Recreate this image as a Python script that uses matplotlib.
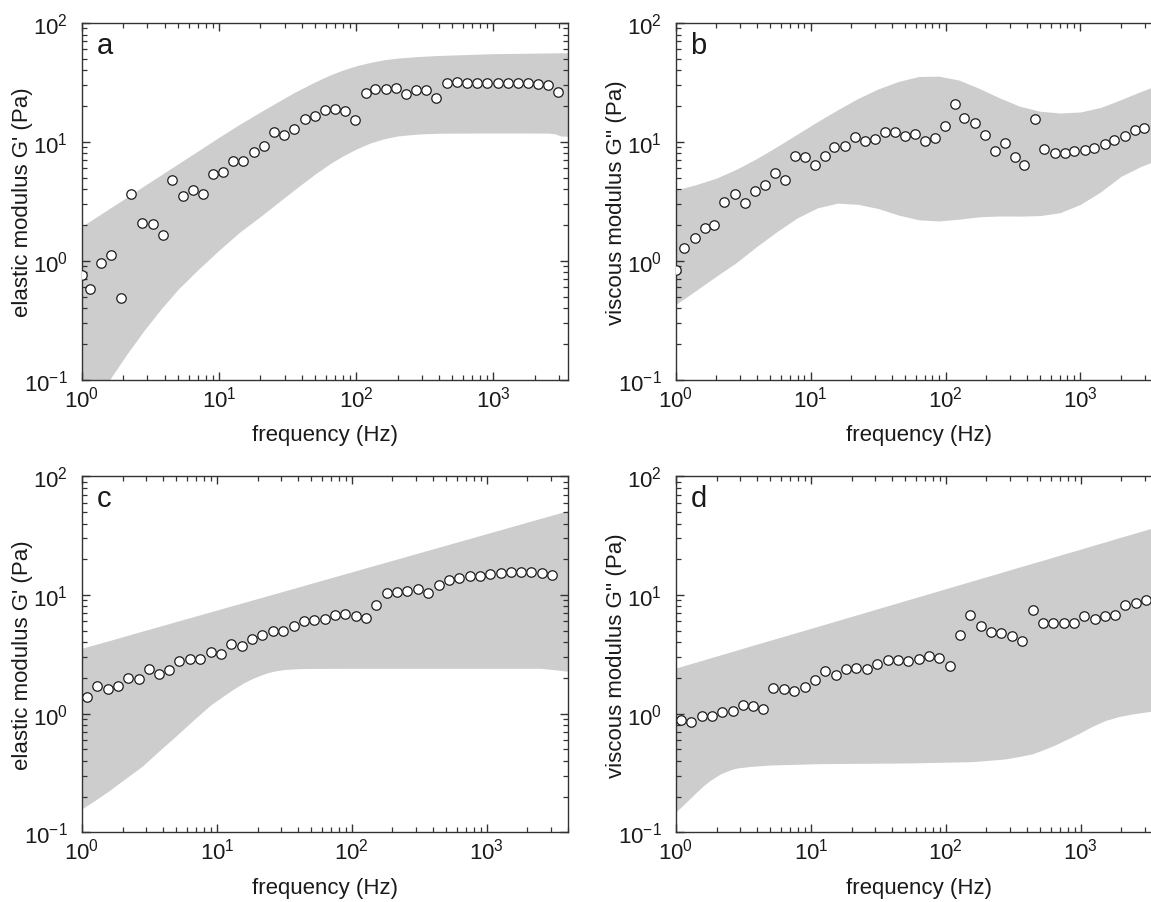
import matplotlib
matplotlib.use("Agg")
import matplotlib.pyplot as plt
from matplotlib.ticker import LogLocator, LogFormatterSciNotation, NullFormatter

plt.rcParams['font.family'] = ['Liberation Sans', 'DejaVu Sans']
plt.rcParams['mathtext.fontset'] = 'custom'
plt.rcParams['mathtext.rm'] = 'Liberation Sans'
plt.rcParams['mathtext.it'] = 'Liberation Sans:italic'
plt.rcParams['mathtext.bf'] = 'Liberation Sans:bold'
plt.rcParams['mathtext.default'] = 'regular'

# ---------------- data ----------------
freq_ab = [1.00, 1.15, 1.38, 1.64, 1.93, 2.28, 2.75, 3.27, 3.87, 4.57, 5.41, 6.44,
           7.62, 9.02, 10.7, 12.7, 15.0, 17.9, 21.3, 25.2, 29.9, 35.4, 42.2, 49.9,
           59.3, 70.2, 83.1, 98.4, 117, 138, 165, 195, 232, 274, 325, 384,
           457, 541, 644, 762, 902, 1072, 1270, 1510, 1786, 2127, 2516, 2978]
g1_a = [0.76, 0.58, 0.96, 1.11, 0.49, 3.67, 2.09, 2.04, 1.66, 4.78, 3.49, 3.94,
        3.67, 5.34, 5.55, 6.87, 6.87, 8.17, 9.30, 12.0, 11.4, 12.8, 15.6, 16.5,
        18.7, 19.0, 18.3, 15.2, 25.6, 27.7, 27.7, 28.2, 25.1, 27.3, 27.3, 23.5,
        31.5, 32.1, 31.5, 31.5, 31.5, 31.5, 31.5, 31.5, 31.1, 30.5, 29.9, 26.3]
g2_b = [0.83, 1.29, 1.56, 1.90, 2.01, 3.10, 3.65, 3.06, 3.89, 4.37, 5.51, 4.75,
        7.66, 7.41, 6.44, 7.60, 9.05, 9.18, 10.9, 10.2, 10.6, 12.1, 12.1, 11.3,
        11.6, 10.1, 10.7, 13.5, 21.0, 15.8, 14.3, 11.5, 8.44, 9.86, 7.41, 6.44,
        15.7, 8.65, 8.11, 8.11, 8.37, 8.54, 8.94, 9.54, 10.3, 11.3, 12.7, 13.2]

freq_cd = [1.09, 1.29, 1.55, 1.86, 2.21, 2.64, 3.13, 3.72, 4.44, 5.28, 6.31, 7.52,
           8.99, 10.7, 12.8, 15.3, 18.2, 21.7, 26.0, 31.0, 37.1, 44.1, 52.7, 63.0,
           75.0, 89.5, 107, 128, 152, 182, 216, 258, 308, 368, 439, 524,
           625, 745, 889, 1059, 1265, 1507, 1799, 2143, 2564, 3062]
g1_c = [1.37, 1.71, 1.60, 1.71, 1.99, 1.95, 2.38, 2.14, 2.32, 2.76, 2.87, 2.87,
        3.29, 3.16, 3.84, 3.69, 4.26, 4.60, 4.94, 4.97, 5.45, 6.04, 6.12, 6.32,
        6.83, 6.96, 6.65, 6.36, 8.24, 10.3, 10.5, 10.9, 11.3, 10.3, 12.2, 13.4,
        13.9, 14.4, 14.5, 14.9, 15.4, 15.5, 15.5, 15.5, 15.4, 14.8]
g2_d = [0.88, 0.845, 0.95, 0.96, 1.03, 1.05, 1.18, 1.15, 1.09, 1.65, 1.60, 1.54,
        1.68, 1.92, 2.30, 2.10, 2.40, 2.41, 2.40, 2.60, 2.83, 2.85, 2.78, 2.87,
        3.08, 2.97, 2.54, 4.63, 6.78, 5.52, 4.84, 4.75, 4.49, 4.07, 7.52, 5.77,
        5.80, 5.80, 5.77, 6.61, 6.32, 6.61, 6.83, 8.24, 8.51, 9.08]

# shaded bands (edges)
band_a_f = [1, 1.26, 1.59, 2.14, 2.86, 3.80, 5.01, 7.08, 10, 14.1, 20.4, 26.9,
            35.6, 50.1, 65.0, 79.4, 100, 126, 158, 200, 282, 398, 1000, 2512,
            2818, 3090, 3508]
band_a_hi = [1.95, 2.32, 2.76, 3.44, 4.30, 5.31, 6.53, 8.45, 10.96, 14.06, 18.11,
             21.78, 26.18, 31.99, 36.73, 40.09, 43.65, 46.56, 48.98, 50.70, 52.24,
             53.33, 55.21, 55.98, 56.10, 56.23, 56.23]
band_a_lo = [0.0355, 0.0603, 0.100, 0.166, 0.263, 0.398, 0.575, 0.851, 1.23, 1.74,
             2.40, 3.09, 3.98, 5.37, 6.61, 7.59, 8.71, 9.77, 10.59, 11.22, 11.64,
             11.83, 11.89, 11.86, 11.69, 11.22, 11.14]

band_b_f = [1, 1.413, 1.995, 2.818, 3.981, 5.623, 7.943, 11.22, 15.85, 22.39, 31.62,
            44.67, 63.10, 89.13, 125.9, 177.8, 251.2, 354.8, 501.2, 707.9, 1000,
            1413, 1995, 2818, 3981]
band_b_hi = [3.94, 4.37, 4.95, 5.89, 7.24, 9.12, 11.61, 14.79, 18.62, 23.17, 27.86,
             32.21, 35.48, 35.73, 33.11, 28.18, 23.44, 19.95, 18.11, 17.50, 17.86,
             19.50, 22.65, 26.61, 30.90]
band_b_lo = [0.429, 0.562, 0.741, 0.966, 1.318, 1.758, 2.291, 2.786, 3.055, 2.985,
             2.754, 2.427, 2.213, 2.163, 2.239, 2.344, 2.382, 2.377, 2.399, 2.541,
             2.985, 3.802, 5.129, 6.237, 7.244]

band_c_f = [1, 1.259, 1.585, 1.995, 2.818, 3.758, 5.012, 6.683, 8.913, 11.22, 13.18,
            15.85, 18.62, 23.44, 26.92, 31.62, 39.81, 50.12, 100, 1000, 2512, 3162,
            4000]
band_c_hi = [3.56, 3.83, 4.12, 4.44, 4.97, 5.45, 5.98, 6.56, 7.19, 7.75, 8.16, 8.66,
             9.12, 9.82, 10.26, 10.81, 11.64, 12.54, 15.67, 32.89, 44.26, 47.64,
             51.40]
band_c_lo = [0.158, 0.187, 0.224, 0.272, 0.363, 0.490, 0.653, 0.881, 1.175, 1.413,
             1.603, 1.820, 1.995, 2.203, 2.291, 2.355, 2.393, 2.404, 2.410, 2.410,
             2.410, 2.344, 2.275]

band_d_f = [1, 1.122, 1.259, 1.413, 1.585, 1.778, 2.138, 2.512, 2.818, 3.548, 5.012,
            11.75, 53.70, 158.5, 275.4, 354.8, 436.5, 524.8, 645.7, 955.0, 1202,
            1514, 1905, 2399, 3311, 4000]
band_d_hi = [2.43, 2.52, 2.62, 2.72, 2.83, 2.94, 3.13, 3.30, 3.43, 3.71, 4.16, 5.52,
             9.18, 13.18, 15.85, 17.26, 18.49, 19.63, 21.09, 23.99, 25.94, 27.99,
             30.27, 32.66, 36.39, 38.73]
band_d_lo = [0.149, 0.168, 0.191, 0.217, 0.245, 0.272, 0.311, 0.335, 0.348, 0.359,
             0.369, 0.379, 0.384, 0.394, 0.415, 0.437, 0.458, 0.495, 0.545, 0.675,
             0.776, 0.873, 0.944, 0.993, 1.047, 1.072]

# ---------------- figure ----------------
W, H = 1151, 903
fig = plt.figure(figsize=(W / 100, H / 100), dpi=100)

def px_axes(left, top, width, height):
    return fig.add_axes([left / W, 1 - (top + height) / H, width / W, height / H])

panels = [
    dict(pos=(82, 24, 486, 356.7), xmax=3500, f=freq_ab, g=g1_a,
         bf=band_a_f, lo=band_a_lo, hi=band_a_hi, letter='a',
         ylabel="elastic modulus G' (Pa)"),
    dict(pos=(675.7, 24, 486, 356.7), xmax=4000, f=freq_ab, g=g2_b,
         bf=band_b_f, lo=band_b_lo, hi=band_b_hi, letter='b',
         ylabel="viscous modulus G'' (Pa)"),
    dict(pos=(82, 477.3, 486, 356), xmax=4000, f=freq_cd, g=g1_c,
         bf=band_c_f, lo=band_c_lo, hi=band_c_hi, letter='c',
         ylabel="elastic modulus G' (Pa)"),
    dict(pos=(676, 477.3, 486, 356), xmax=4000, f=freq_cd, g=g2_d,
         bf=band_d_f, lo=band_d_lo, hi=band_d_hi, letter='d',
         ylabel="viscous modulus G'' (Pa)"),
]

text_color = '#1a1a1a'
for p in panels:
    ax = px_axes(*p['pos'])
    ax.set_xscale('log')
    ax.set_yscale('log')
    ax.fill_between(p['bf'], p['lo'], p['hi'], color='#cdcdcd', linewidth=0, zorder=1)
    ax.plot(p['f'], p['g'], linestyle='none', marker='o', ms=6.8,
            mfc='white', mec='#1e1e1e', mew=0.9, zorder=3)
    ax.set_xlim(1, p['xmax'])
    ax.set_ylim(0.1, 100)

    for axis in (ax.xaxis, ax.yaxis):
        axis.set_major_locator(LogLocator(base=10, numticks=10))
        axis.set_minor_locator(LogLocator(base=10, subs=range(2, 10), numticks=10))
        axis.set_major_formatter(LogFormatterSciNotation())
        axis.set_minor_formatter(NullFormatter())

    ax.tick_params(which='both', direction='in', top=True, right=True,
                   colors='#333333', labelcolor=text_color)
    ax.tick_params(which='major', length=6, width=1.0, labelsize=16)
    ax.tick_params(which='minor', length=3.5, width=0.9)
    ax.tick_params(axis='x', which='major', pad=4)
    ax.tick_params(axis='y', which='major', pad=10)
    for s in ax.spines.values():
        s.set_color('#333333')
        s.set_linewidth(1.0)

    ax.set_xlabel('frequency (Hz)', fontsize=16, color=text_color)
    ax.set_ylabel(p['ylabel'], fontsize=16, color=text_color)
    ax.xaxis.set_label_coords(0.5, -0.125)
    ax.yaxis.set_label_coords(-0.10, 0.5)

    ax.text(0.03, 0.916, p['letter'], transform=ax.transAxes, fontsize=21,
            va='baseline', ha='left', color=text_color)

fig.savefig('out.png', dpi=100)
